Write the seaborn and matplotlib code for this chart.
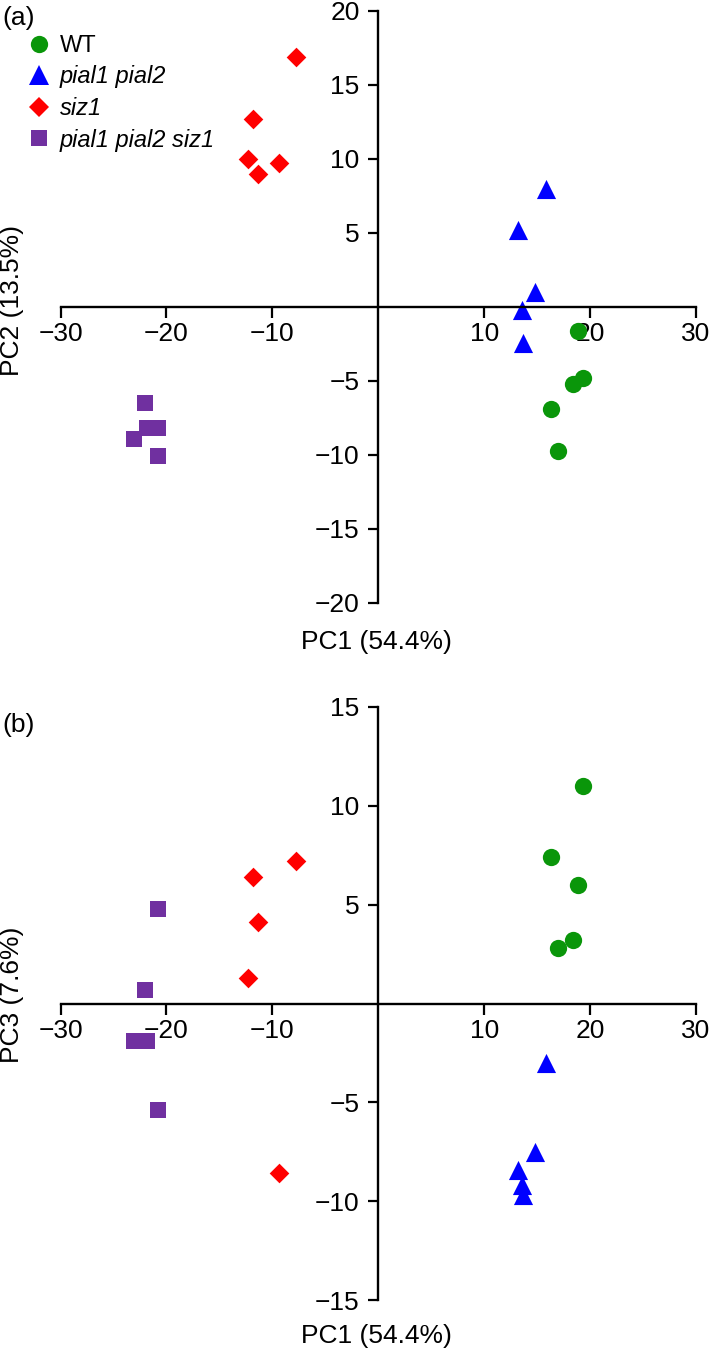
import matplotlib
matplotlib.use("Agg")
import matplotlib.pyplot as plt
from matplotlib.lines import Line2D
import pandas as pd
import seaborn as sns

# PCA scores (5 replicates per genotype)
genotypes = ["WT", "pial1 pial2", "siz1", "pial1 pial2 siz1"]
wt_pc1 = [18.9, 19.3, 18.4, 16.3, 17.0]
wt_pc2 = [-1.6, -4.8, -5.2, -6.9, -9.7]
wt_pc3 = [6.0, 11.0, 3.2, 7.4, 2.8]
pial_pc1 = [15.8, 13.2, 14.8, 13.6, 13.7]
pial_pc2 = [8.0, 5.2, 1.0, -0.2, -2.4]
pial_pc3 = [-3.0, -8.4, -7.5, -9.2, -9.7]
siz_pc1 = [-7.8, -11.8, -12.3, -9.4, -11.4]
siz_pc2 = [16.9, 12.7, 10.0, 9.7, 9.0]
siz_pc3 = [7.2, 6.4, 1.3, -8.6, 4.1]
triple_pc1 = [-22.0, -20.8, -21.8, -23.1, -20.8]
triple_pc2 = [-6.5, -8.2, -8.2, -8.9, -10.1]
triple_pc3 = [0.7, 4.8, -1.9, -1.9, -5.4]

x_ticks = [-30, -20, -10, 10, 20, 30]
y_ticks_a = [-20, -15, -10, -5, 5, 10, 15, 20]
y_ticks_b = [-15, -10, -5, 5, 10, 15]

colors = {"WT": "#0a960a", "pial1 pial2": "#0000ff", "siz1": "#ff0000",
          "pial1 pial2 siz1": "#7030a0"}
markers = {"WT": "o", "pial1 pial2": "^", "siz1": "D", "pial1 pial2 siz1": "s"}
sizes = {"WT": 155, "pial1 pial2": 190, "siz1": 100, "pial1 pial2 siz1": 145}

df = pd.DataFrame({
    "genotype": sum([[g] * 5 for g in genotypes], []),
    "PC1": wt_pc1 + pial_pc1 + siz_pc1 + triple_pc1,
    "PC2": wt_pc2 + pial_pc2 + siz_pc2 + triple_pc2,
    "PC3": wt_pc3 + pial_pc3 + siz_pc3 + triple_pc3,
})

sns.set_theme(style="white")
plt.rcParams["font.family"] = ["Liberation Sans", "DejaVu Sans"]
plt.rcParams["text.color"] = "black"

W, H = 709, 1351
fig = plt.figure(figsize=(W / 100, H / 100), dpi=100)
left, width = 60.5 / W, 635.5 / W
ax_a = fig.add_axes([left, 1 - 603 / H, width, 592 / H])
ax_b = fig.add_axes([left, 1 - 1300 / H, width, 593 / H])

FS = 19
LEG_FS = 17


def draw(ax, ycol, ylim, yticks):
    for g in genotypes:
        sub = df[df["genotype"] == g]
        sns.scatterplot(data=sub, x="PC1", y=ycol, ax=ax, color=colors[g],
                        marker=markers[g], s=sizes[g], linewidth=0, legend=False)
    ax.set_xlim(-30, 30)
    ax.set_ylim(*ylim)
    ax.set_xticks(x_ticks)
    ax.set_yticks(yticks)
    ax.set_xticklabels([str(t).replace("-", "\u2212") for t in x_ticks])
    ax.set_yticklabels([str(t).replace("-", "\u2212") for t in yticks])
    ax.spines["left"].set_position(("data", 0))
    ax.spines["bottom"].set_position(("data", 0))
    for s in ["top", "right"]:
        ax.spines[s].set_visible(False)
    for s in ["left", "bottom"]:
        ax.spines[s].set_linewidth(1.7)
        ax.spines[s].set_color("black")
    ax.tick_params(axis="x", direction="out", length=8, width=1.6, pad=3,
                   labelsize=FS, colors="black", bottom=True)
    ax.tick_params(axis="y", direction="out", length=7.5, width=1.6, pad=6,
                   labelsize=FS, colors="black", left=True)
    ax.set_xlabel("")
    ax.set_ylabel("")


draw(ax_a, "PC2", (-20, 20), y_ticks_a)
draw(ax_b, "PC3", (-15, 15), y_ticks_b)

# axis titles and panel letters
fig.text(376 / W, 1 - 642 / H, "PC1 (54.4%)", ha="center", va="center", fontsize=FS)
fig.text(376 / W, 1 - 1336 / H, "PC1 (54.4%)", ha="center", va="center", fontsize=FS)
fig.text(12 / W, 1 - 300 / H, "PC2 (13.5%)", ha="center", va="center",
         rotation=90, fontsize=FS)
fig.text(12 / W, 1 - 995 / H, "PC3 (7.6%)", ha="center", va="center",
         rotation=90, fontsize=FS)
fig.text(2 / W, 1 - 18 / H, "(a)", ha="left", va="center", fontsize=FS)
fig.text(2 / W, 1 - 725 / H, "(b)", ha="left", va="center", fontsize=FS)

handles = [Line2D([], [], linestyle="none", marker=markers[g], color=colors[g],
                  markeredgewidth=0, markersize=sizes[g] ** 0.5) for g in genotypes]
leg = ax_a.legend(handles, genotypes, loc="upper left",
                  bbox_to_anchor=(27 / W, 1 - 35 / H), bbox_transform=fig.transFigure,
                  frameon=False, fontsize=LEG_FS, handlelength=1.0, handletextpad=0.4,
                  labelspacing=0.36, borderpad=0, borderaxespad=0)
for t in leg.get_texts()[1:]:
    t.set_style("italic")

fig.savefig("out.png", dpi=100)
